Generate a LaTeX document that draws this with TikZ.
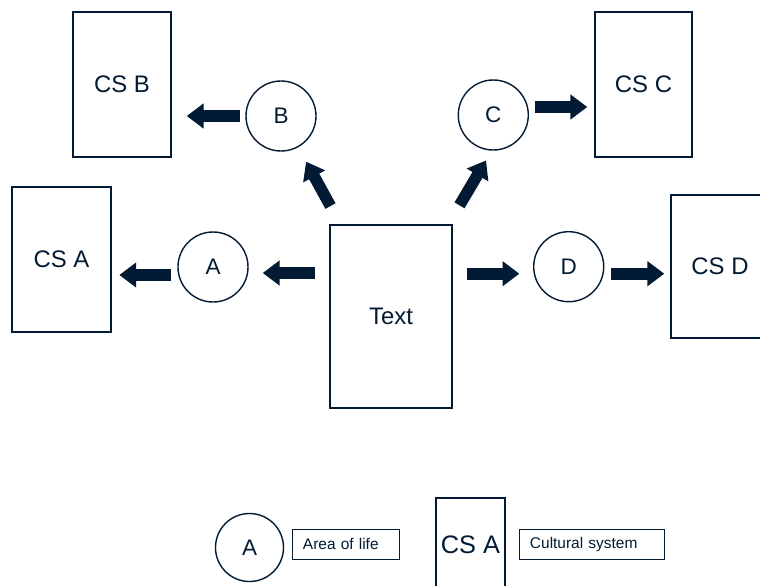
\documentclass[tikz,border=0pt]{standalone}
\usepackage{fontspec}
\setmainfont{Liberation Sans}
\usetikzlibrary{arrows.meta}
\definecolor{navy}{HTML}{021A33}

\begin{document}
\begin{tikzpicture}[x=0.025cm, y=-0.025cm,
	every node/.style={text=navy},
	csbox/.style={draw=navy, line width=1pt, minimum width=2.45cm, minimum height=3.625cm, inner sep=0pt, font=\fontsize{17}{20}\selectfont},
	area/.style={draw=navy, circle, line width=1pt, minimum size=1.75cm, inner sep=0pt, font=\fontsize{16}{19}\selectfont},
	keylabel/.style={draw=navy, line width=0.7pt, minimum height=0.75cm, inner xsep=0.275cm, align=left, font=\fontsize{11}{13}\selectfont},
	blockarrow/.style={navy, line width=0.29cm, -{Triangle[length=0.42cm, width=0.6cm]}}]

\useasboundingbox (0,0) rectangle (760,585);

\node [csbox, minimum width=3.05cm, minimum height=4.575cm] (textbox) at (391,316.5) {Text};

\node [area] (areaA) at (213,267) {A};
\node [area] (areaB) at (281,116) {B};
\node [area] (areaC) at (493.3,115) {C};
\node [area] (areaD) at (568.7,266.7) {D};

\node [csbox, minimum width=2.475cm] (csA) at (61.5,259.5) {CS A};
\node [csbox] (csB) at (122,84.5) {CS B};
\node [csbox, minimum width=2.425cm] (csC) at (643.5,84.5) {CS C};
\node [csbox, minimum height=3.575cm] (csD) at (720,266.5) {CS D};

\draw [blockarrow, shorten <=0.35cm, shorten >=0.35cm] ([yshift=-0.15cm]textbox.west |- areaA.east) -- ([yshift=-0.15cm]areaA.east);
\draw [blockarrow, shorten <=0.16cm, shorten >=0.19cm] ([yshift=-0.2cm]areaA.west) -- ([yshift=-0.2cm]csA.east |- areaA.west);
\draw [blockarrow, shorten <=0.52cm, shorten >=0.41cm] (textbox) -- (areaB);
\draw [blockarrow, shorten <=0.13cm, shorten >=0.375cm] (areaB.west) -- (csB.east |- areaB.west);
\draw [blockarrow, shorten <=0.55cm, shorten >=1.32cm] ([xshift=-0.11cm]textbox.north east) -- ([xshift=0.49cm]areaC.center);
\draw [blockarrow, shorten <=0.14cm, shorten >=0.175cm] ([yshift=0.2cm]areaC.east) -- ([yshift=0.2cm]csC.west |- areaC.east);
\draw [blockarrow, shorten <=0.35cm, shorten >=0.34cm] ([yshift=-0.175cm]textbox.east |- areaD.west) -- ([yshift=-0.175cm]areaD.west);
\draw [blockarrow, shorten <=0.175cm, shorten >=0.15cm] ([yshift=-0.175cm]areaD.east) -- ([yshift=-0.175cm]csD.west |- areaD.east);

\node [area, minimum size=1.7cm] (keyarea) at (249.5,547.5) {A};
\node [keylabel, text width=2.125cm] (keyarealabel) at (345.5,544) {Area of life};
\node [csbox, minimum width=1.725cm, minimum height=2.35cm, font=\fontsize{18}{21}\selectfont] (keycs) at (470.5,545) {CS A};
\node [keylabel, text width=3.075cm] (keycslabel) at (591.5,544) {Cultural system};
\end{tikzpicture}
\end{document}
